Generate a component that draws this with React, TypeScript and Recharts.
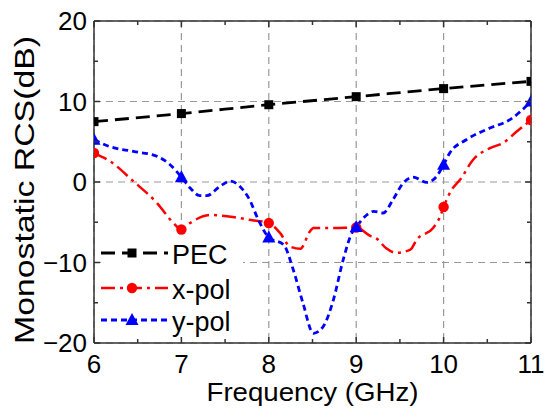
import { LineChart, Line, XAxis, YAxis, CartesianGrid, Legend, Label } from 'recharts';

const FONT = '"Liberation Sans", Arial, Helvetica, sans-serif';

// axis ticks (half steps carry the minor tick marks)
const freqTicks = [6, 6.5, 7, 7.5, 8, 8.5, 9, 9.5, 10, 10.5, 11];
const freqMajor = [6, 7, 8, 9, 10, 11];
const rcsTicks = [-20, -15, -10, -5, 0, 5, 10, 15, 20];
const rcsMajor = [-20, -10, 0, 10, 20];

// PEC reference
const pecFreq = [6, 7, 8, 9, 10, 11];
const pecRcs = [7.5, 8.5, 9.6, 10.6, 11.6, 12.5];

// x-polarised incidence
const xpolFreq = [6, 6.18, 6.45, 6.72, 6.91, 7, 7.1, 7.33, 7.59, 7.78, 8, 8.13, 8.24, 8.36, 8.47, 8.51, 8.75, 9,
  9.16, 9.23, 9.34, 9.46, 9.62, 9.69, 9.88, 9.96, 10, 10.09, 10.19, 10.34, 10.53, 10.68, 10.84, 11];
const xpolRcs = [3.6, 2.6, 0.1, -2.6, -5.1, -5.9, -5.1, -4.1, -4.35, -4.7, -5.1, -6.35, -8.0, -8.3, -6.15, -5.7, -5.7, -5.65,
  -6.7, -7.0, -8.2, -8.8, -8.4, -7.2, -5.7, -4.3, -3.1, -1.0, 0.3, 2.8, 4.2, 4.85, 6.3, 7.7];

// y-polarised incidence
const ypolFreq = [6, 6.18, 6.45, 6.72, 6.87, 7, 7.1, 7.21, 7.29, 7.44, 7.56, 7.67, 7.78, 7.88, 8, 8.17, 8.28, 8.39, 8.51,
  8.62, 8.74, 8.85, 8.95, 9, 9.12, 9.2, 9.31, 9.42, 9.54, 9.65, 9.81, 9.92, 10, 10.07, 10.26, 10.53, 10.76, 11];
const ypolRcs = [5.25, 4.4, 3.8, 3.2, 2.15, 0.6, -0.75, -1.7, -1.7, -0.55, 0.1, -0.55, -2.2, -4.7, -6.9, -7.8, -10.9, -15.0, -18.8,
  -18.0, -14.6, -9.7, -6.35, -5.6, -4.1, -3.65, -3.85, -2.2, -0.1, 0.6, -0.05, 0.7, 2.15, 3.6, 5.25, 6.7, 7.75, 10.0];

const toRows = (f: number[], v: number[]) => f.map((x, i) => ({ f: x, v: v[i] }));

const series = [
  { name: 'PEC', rows: toRows(pecFreq, pecRcs), color: '#000000', dash: '14 7', width: 2.8, shape: 'square' },
  { name: 'x-pol', rows: toRows(xpolFreq, xpolRcs), color: '#ff0000', dash: '14 5 3 5', width: 2.5, shape: 'circle' },
  { name: 'y-pol', rows: toRows(ypolFreq, ypolRcs), color: '#0000ff', dash: '6 4', width: 2.8, shape: 'triangle' },
];

const AXIS = '#333';
const fmt = (v: number) => (v < 0 ? `\u2212${-v}` : `${v}`);

function Marker({ shape, cx, cy, color }: { shape: string; cx: number; cy: number; color: string }) {
  if (shape === 'square') return <rect x={cx - 4.5} y={cy - 4.5} width={9} height={9} fill={color} />;
  if (shape === 'circle') return <circle cx={cx} cy={cy} r={5.2} fill={color} />;
  return <polygon points={`${cx},${cy - 7} ${cx - 6.5},${cy + 5} ${cx + 6.5},${cy + 5}`} fill={color} />;
}

// markers only on the whole-GHz samples
const makeDot = (shape: string, color: string) => (props: any) => {
  const { cx, cy, payload } = props;
  if (!Number.isInteger(payload.f)) return <g key={`e-${cx}`} />;
  return <g key={`m-${cx}`}><Marker shape={shape} cx={cx} cy={cy} color={color} /></g>;
};

const BottomTick = ({ x, y, payload }: any) => {
  const major = Number.isInteger(payload.value);
  return (
    <g>
      <line x1={x} x2={x} y1={y} y2={y - (major ? 6 : 4)} stroke={AXIS} strokeWidth={1.5} />
      {major && (
        <text x={x} y={y + 30} textAnchor="middle" fontSize={26} fontFamily={FONT} fill="#000">
          {payload.value}
        </text>
      )}
    </g>
  );
};

const TopTick = ({ x, y, payload }: any) => (
  <line x1={x} x2={x} y1={y} y2={y + (Number.isInteger(payload.value) ? 6 : 4)} stroke={AXIS} strokeWidth={1.5} />
);

const LeftTick = ({ x, y, payload }: any) => {
  const major = payload.value % 10 === 0;
  return (
    <g>
      <line x1={x} x2={x + (major ? 6 : 4)} y1={y} y2={y} stroke={AXIS} strokeWidth={1.5} />
      {major && (
        <text x={x - 7} y={y} dy="0.36em" textAnchor="end" fontSize={26} fontFamily={FONT} fill="#000">
          {fmt(payload.value)}
        </text>
      )}
    </g>
  );
};

const RightTick = ({ x, y, payload }: any) => (
  <line x1={x} x2={x - (payload.value % 10 === 0 ? 6 : 4)} y1={y} y2={y} stroke={AXIS} strokeWidth={1.5} />
);

const LegendBox = () => (
  <div style={{ background: '#fff', width: 142, fontFamily: FONT, fontSize: 27, color: '#000', whiteSpace: 'nowrap' }}>
    {series.map((s, i) => (
      <div key={s.name} style={{ display: 'flex', alignItems: 'center', height: i === 2 ? 30 : 35 }}>
        <svg width={70} height={20} style={{ overflow: 'visible', flex: 'none' }}>
          <line x1={0} x2={67} y1={8} y2={8} stroke={s.color} strokeWidth={s.width} strokeDasharray={s.dash} />
          <Marker shape={s.shape} cx={31} cy={8} color={s.color} />
        </svg>
        <span style={{ marginLeft: 1, lineHeight: '30px' }}>{s.name}</span>
      </div>
    ))}
  </div>
);

const YTitle = ({ viewBox }: any) => {
  const cx = viewBox.x + viewBox.width - 70;
  const cy = viewBox.y + viewBox.height / 2 + 8;
  return (
    <text
      x={cx}
      y={cy}
      transform={`rotate(-90 ${cx} ${cy})`}
      textAnchor="middle"
      dy="0.36em"
      fontSize={28}
      fontFamily={FONT}
      fill="#000"
      textLength={308}
      lengthAdjust="spacingAndGlyphs"
    >
      Monostatic RCS(dB)
    </text>
  );
};

const XTitle = ({ viewBox }: any) => (
  <text
    x={viewBox.x + viewBox.width / 2}
    y={viewBox.y + 58}
    textAnchor="middle"
    fontSize={26}
    fontFamily={FONT}
    fill="#000"
    textLength={212}
    lengthAdjust="spacingAndGlyphs"
  >
    Frequency (GHz)
  </text>
);

export default function App() {
  return (
    <div style={{ position: 'absolute', left: 0, top: 0, width: 550, height: 417, background: '#fff' }}>
      <LineChart width={550} height={417} margin={{ top: 20, right: 18, bottom: 44, left: 0 }}>
        <CartesianGrid stroke="#999" strokeDasharray="7 5" strokeWidth={1.2} verticalValues={freqMajor} horizontalValues={rcsMajor} />
        <XAxis
          dataKey="f"
          type="number"
          domain={[6, 11]}
          ticks={freqTicks}
          interval={0}
          allowDataOverflow
          height={30}
          tickSize={0}
          tickMargin={0}
          tickLine={false}
          tick={<BottomTick />}
          axisLine={{ stroke: AXIS, strokeWidth: 1.5 }}
        >
          <Label content={<XTitle />} />
        </XAxis>
        <XAxis
          xAxisId="top"
          orientation="top"
          dataKey="f"
          type="number"
          domain={[6, 11]}
          ticks={freqTicks}
          interval={0}
          allowDataOverflow
          height={1}
          tickSize={0}
          tickMargin={0}
          tickLine={false}
          tick={<TopTick />}
          axisLine={{ stroke: AXIS, strokeWidth: 1.5 }}
        />
        <YAxis
          type="number"
          domain={[-20, 20]}
          ticks={rcsTicks}
          interval={0}
          allowDataOverflow
          width={94}
          tickSize={0}
          tickMargin={0}
          tickLine={false}
          tick={<LeftTick />}
          axisLine={{ stroke: AXIS, strokeWidth: 1.5 }}
        >
          <Label content={<YTitle />} />
        </YAxis>
        <YAxis
          yAxisId="right"
          orientation="right"
          type="number"
          domain={[-20, 20]}
          ticks={rcsTicks}
          interval={0}
          allowDataOverflow
          width={1}
          tickSize={0}
          tickMargin={0}
          tickLine={false}
          tick={<RightTick />}
          axisLine={{ stroke: AXIS, strokeWidth: 1.5 }}
        />
        {series.map((s) => (
          <Line
            key={s.name}
            data={s.rows}
            dataKey="v"
            name={s.name}
            type="monotone"
            stroke={s.color}
            strokeWidth={s.width}
            strokeDasharray={s.dash}
            dot={makeDot(s.shape, s.color)}
            activeDot={false}
            isAnimationActive={false}
          />
        ))}
        <Legend
          layout="horizontal"
          verticalAlign="middle"
          align="center"
          content={<LegendBox />}
          wrapperStyle={{ left: 101, top: 237, width: 142 }}
        />
      </LineChart>
    </div>
  );
}
